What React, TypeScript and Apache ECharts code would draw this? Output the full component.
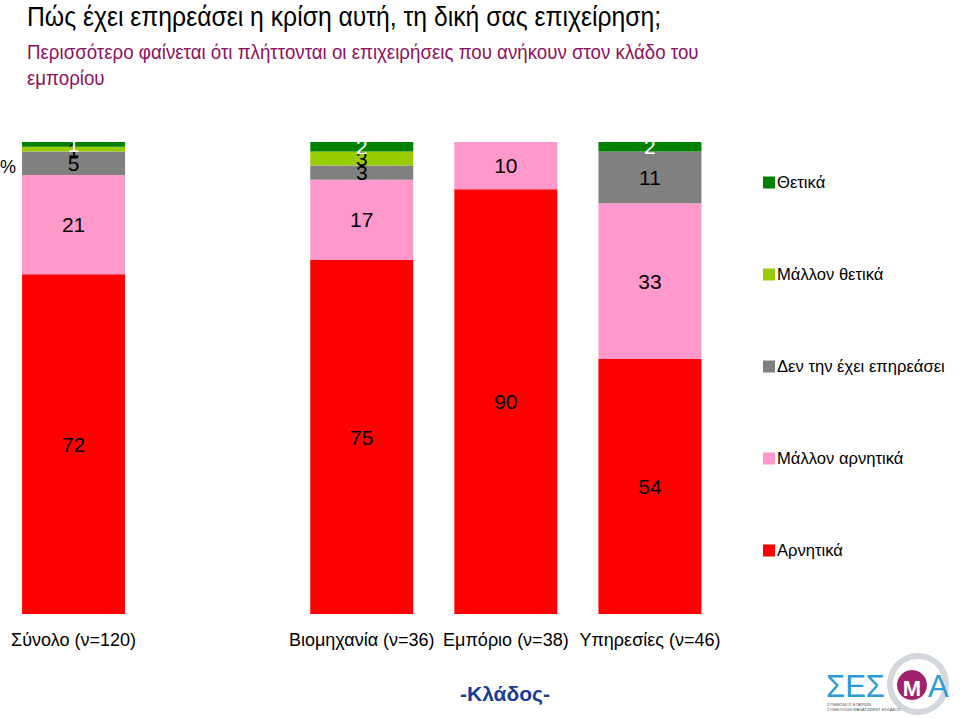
import React, { useEffect, useRef } from "react";
import * as echarts from "echarts";

const categories = ["Σύνολο (ν=120)", "", "Βιομηχανία (ν=36)", "Εμπόριο (ν=38)", "Υπηρεσίες (ν=46)"];
const seriesNames = ["Θετικά", "Μάλλον θετικά", "Δεν την έχει επηρεάσει", "Μάλλον αρνητικά", "Αρνητικά"];
const thetika = [1, "-", 2, "-", 2];
const mallonThetika = [1, "-", 3, "-", "-"];
const denEpireasei = [5, "-", 3, "-", 11];
const mallonArnitika = [21, "-", 17, 10, 33];
const arnitika = [72, "-", 75, 90, 54];
const colors = ["#008000", "#99CC00", "#808080", "#FF99CC", "#FF0000"];
const labelColors = ["#ffffff", "#000000", "#000000", "#000000", "#000000"];

export default function App() {
  const ref = useRef<HTMLDivElement>(null);
  useEffect(() => {
    document.body.style.margin = "0";
    if (!ref.current) return;
    const chart = echarts.init(ref.current, undefined, { renderer: "svg" });
    const dataSets = [thetika, mallonThetika, denEpireasei, mallonArnitika, arnitika];
    // stacking bottom-up: Αρνητικά first
    const order = [4, 3, 2, 1, 0];
    const series = order.map((i) => ({
      name: seriesNames[i],
      type: "bar",
      stack: "total",
      barWidth: 103,
      data: dataSets[i],
      itemStyle: { color: colors[i] },
      label: {
        show: true,
        position: "inside",
        color: labelColors[i],
        fontSize: 21,
        fontFamily: "Liberation Sans, Arial, sans-serif",
      },
    }));
    chart.setOption({
      animation: false,
      textStyle: { fontFamily: "Liberation Sans, Arial, sans-serif" },
      grid: { left: 1.5, right: 238, top: 142, bottom: 104, containLabel: false },
      xAxis: {
        type: "category",
        data: categories,
        axisLine: { show: false },
        axisTick: { show: false },
        axisLabel: { color: "#000", fontSize: 18, margin: 17, interval: 0 },
      },
      yAxis: { type: "value", min: 0, max: 100, show: false },
      legend: {
        orient: "vertical",
        left: 763,
        top: 174,
        padding: 0,
        itemWidth: 12,
        itemHeight: 12,
        itemGap: 75,
        icon: "rect",
        data: seriesNames,
        textStyle: { fontSize: 16.6, color: "#000", padding: [0, 0, 0, -3] },
      },
      series,
      graphic: [
        {
          type: "text",
          x: 27,
          y: 3,
          scaleX: 0.916,
          style: {
            text: "Πώς έχει επηρεάσει η κρίση αυτή, τη δική σας επιχείρηση;",
            fontSize: 27,
            fill: "#000",
            verticalAlign: "top",
            fontFamily: "Liberation Sans, Arial, sans-serif",
          },
        },
        {
          type: "text",
          x: 27,
          y: 39,
          scaleX: 0.935,
          style: {
            text: "Περισσότερο φαίνεται ότι πλήττονται οι επιχειρήσεις που ανήκουν στον κλάδο του\nεμπορίου",
            fontSize: 20,
            lineHeight: 26,
            fill: "#8E1060",
            verticalAlign: "top",
            fontFamily: "Liberation Sans, Arial, sans-serif",
          },
        },
        {
          type: "text",
          left: 0,
          top: 158,
          style: { text: "%", fontSize: 18, fill: "#000", fontFamily: "Liberation Sans, Arial, sans-serif" },
        },
        {
          type: "text",
          x: 505,
          y: 693,
          style: {
            text: "-Κλάδος-",
            fontSize: 21,
            fontWeight: "bold",
            fill: "#1A3C96",
            align: "center",
            verticalAlign: "middle",
            fontFamily: "Liberation Sans, Arial, sans-serif",
          },
        },
        {
          type: "group",
          children: [
            {
              type: "ring",
              shape: { cx: 918, cy: 684, r: 31, r0: 25 },
              style: { fill: "#d4d8dc" },
            },
            {
              type: "circle",
              shape: { cx: 912, cy: 685, r: 15 },
              style: { fill: "#A0226E" },
            },
            {
              type: "text",
              x: 826,
              y: 686,
              style: {
                text: "ΣΕΣ",
                fontSize: 31,
                fill: "#2A9BD7",
                verticalAlign: "middle",
                fontFamily: "Liberation Sans, Arial, sans-serif",
              },
            },
            {
              type: "text",
              x: 912,
              y: 688,
              style: {
                text: "Μ",
                fontSize: 22,
                fontWeight: "bold",
                fill: "#ffffff",
                align: "center",
                verticalAlign: "middle",
                fontFamily: "Liberation Sans, Arial, sans-serif",
              },
            },
            {
              type: "text",
              x: 928,
              y: 686,
              style: {
                text: "Α",
                fontSize: 31,
                fill: "#2A9BD7",
                verticalAlign: "middle",
                fontFamily: "Liberation Sans, Arial, sans-serif",
              },
            },
            {
              type: "text",
              x: 827,
              y: 702,
              style: {
                text: "ΣΥΝΔΕΣΜΟΣ ΕΤΑΙΡΙΩΝ\nΣΥΜΒΟΥΛΩΝ ΜΑΝΑΤΖΜΕΝΤ ΕΛΛΑΔΟΣ",
                fontSize: 4,
                lineHeight: 5,
                fill: "#555",
                fontFamily: "Liberation Sans, Arial, sans-serif",
              },
            },
          ],
        },
      ],
    });
    return () => chart.dispose();
  }, []);
  return <div ref={ref} style={{ width: 960, height: 718 }} />;
}
